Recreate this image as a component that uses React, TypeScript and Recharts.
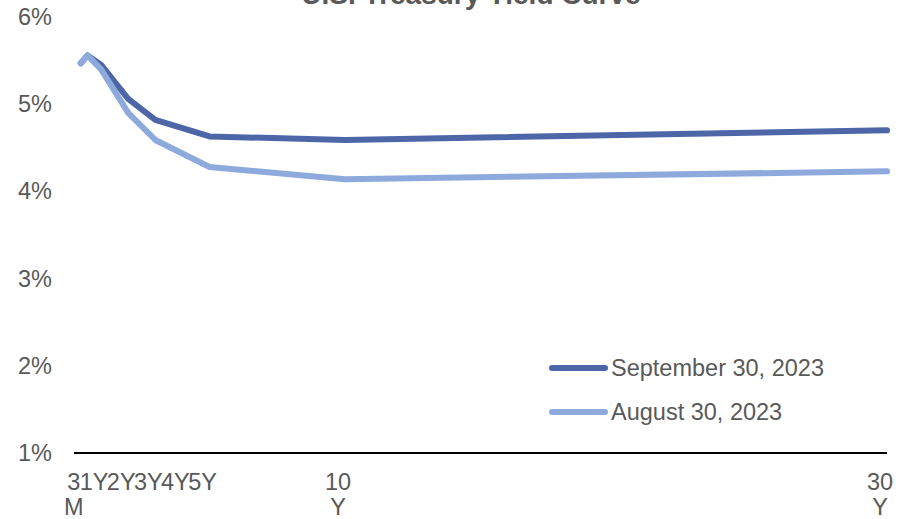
import { Line, LineChart, XAxis, YAxis } from "recharts";

const maturities = [0.25, 0.5, 1, 2, 3, 5, 10, 30];
const sep2023 = [5.47, 5.56, 5.45, 5.06, 4.82, 4.63, 4.59, 4.7];
const aug2023 = [5.47, 5.56, 5.4, 4.9, 4.59, 4.28, 4.14, 4.23];

const xTicks = [0.25, 1, 2, 3, 4, 5, 10, 30];
const xTickLabels = ["3\nM", "1Y", "2Y", "3Y", "4Y", "5Y", "10\nY", "30\nY"];
const yTicks = [1, 2, 3, 4, 5, 6];

const series = [
  { key: "sep", label: "September 30, 2023", color: "#4C66A8" },
  { key: "aug", label: "August 30, 2023", color: "#8EAADC" },
];

const data = maturities.map((m, i) => ({ m, sep: sep2023[i], aug: aug2023[i] }));

const font = "'Liberation Sans', Arial, sans-serif";
const gray = "#595959";

function XTick({ x, payload }: any) {
  const idx = xTicks.indexOf(payload.value);
  const lines = (xTickLabels[idx] ?? "").split("\n");
  return (
    <text x={x - 7} textAnchor='middle' fontSize={23.5} fontFamily={font} fill={gray}>
      {lines.map((l, i) => (
        <tspan key={i} x={x - 7} y={490 + i * 25}>
          {l}
        </tspan>
      ))}
    </text>
  );
}

function YTick({ y, payload }: any) {
  return (
    <text x={52} y={y} dy={8} textAnchor='end' fontSize={23.5} fontFamily={font} fill={gray}>
      {payload.value}%
    </text>
  );
}

function LegendBox() {
  return (
    <div style={{ position: "absolute", left: 548, top: 346, fontFamily: font, fontSize: 23.5, color: gray }}>
      {series.map((s) => (
        <div key={s.key} style={{ display: "flex", alignItems: "center", height: 44 }}>
          <svg width={60} height={10}>
            <line x1={4} y1={5} x2={57} y2={5} stroke={s.color} strokeWidth={6} strokeLinecap='round' />
          </svg>
          <span style={{ marginLeft: 3 }}>{s.label}</span>
        </div>
      ))}
    </div>
  );
}

export default function App() {
  return (
    <div style={{ position: "absolute", left: 0, top: 0, width: 902, height: 519, background: "#fff" }}>
      <div
        style={{
          position: "absolute",
          left: 0,
          width: 942,
          top: -19,
          lineHeight: "28px",
          textAlign: "center",
          fontFamily: font,
          fontWeight: "bold",
          fontSize: 28,
          color: gray,
        }}
      >
        U.S. Treasury Yield Curve
      </div>
      <LineChart width={902} height={519} data={data} margin={{ top: 17, right: 15, bottom: 0, left: 0 }}>
        <XAxis
          dataKey='m'
          type='number'
          domain={[0, 30]}
          ticks={xTicks}
          interval={0}
          tick={<XTick />}
          tickLine={false}
          axisLine={{ stroke: "#000", strokeWidth: 2 }}
          height={66}
        />
        <YAxis
          type='number'
          domain={[1, 6]}
          ticks={yTicks}
          tick={<YTick />}
          axisLine={false}
          tickLine={false}
          width={74}
        />
        {series.map((s) => (
          <Line
            key={s.key}
            type='linear'
            dataKey={s.key}
            name={s.label}
            stroke={s.color}
            strokeWidth={6}
            strokeLinecap='round'
            strokeLinejoin='round'
            dot={false}
            activeDot={false}
            isAnimationActive={false}
          />
        ))}
      </LineChart>
      <LegendBox />
    </div>
  );
}
